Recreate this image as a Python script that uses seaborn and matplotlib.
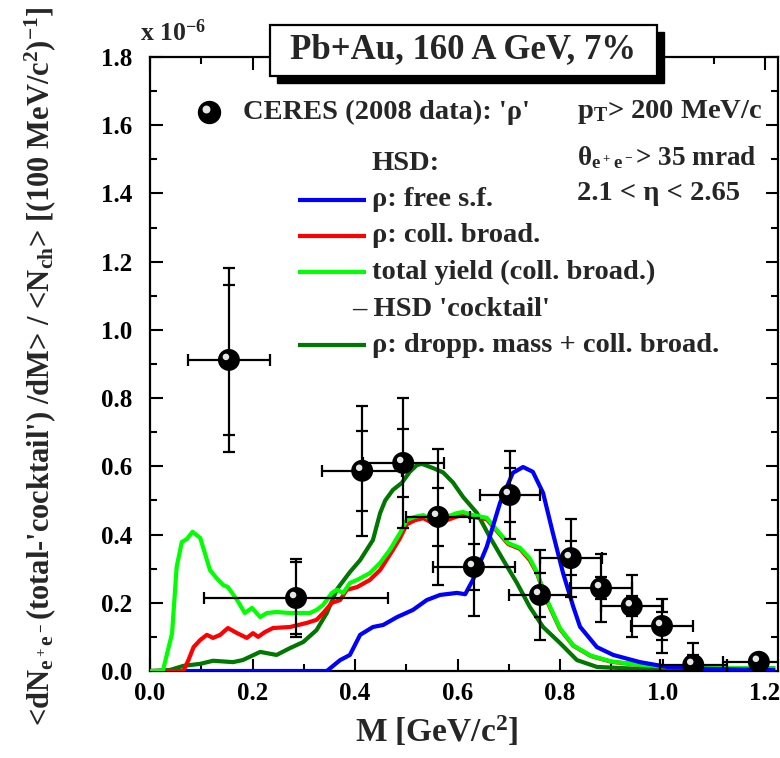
import matplotlib
matplotlib.use("Agg")
import matplotlib.pyplot as plt
import matplotlib.transforms as mtransforms
from matplotlib.patches import Rectangle
from matplotlib.lines import Line2D
import seaborn as sns
import numpy as np

# ---------------- data ----------------
# CERES 2008 data points
data_m = [0.154, 0.285, 0.414, 0.494, 0.562, 0.632, 0.702, 0.761, 0.821, 0.880, 0.940, 0.999, 1.060, 1.188]
data_y = [0.912, 0.214, 0.587, 0.610, 0.452, 0.305, 0.516, 0.223, 0.331, 0.243, 0.190, 0.132, 0.018, 0.027]
data_xerr = [0.080, 0.180, 0.078, 0.079, 0.062, 0.080, 0.058, 0.060, 0.060, 0.060, 0.060, 0.060, 0.065, 0.070]
data_yerr_tot = [0.270, 0.114, 0.190, 0.190, 0.200, 0.145, 0.130, 0.133, 0.115, 0.100, 0.090, 0.080, 0.064, 0.020]
data_yerr_mid = [0.220, 0.105, 0.117, 0.100, 0.085, 0.068, 0.080, 0.065, 0.050, 0.033, 0.030, 0.040, 0.030, 0.010]

# HSD: rho free spectral function (blue)
free_m = [0.07, 0.345, 0.371, 0.390, 0.410, 0.435, 0.455, 0.482, 0.513, 0.540, 0.566, 0.599, 0.615,
          0.630, 0.657, 0.683, 0.708, 0.728, 0.747, 0.767, 0.786, 0.806, 0.826, 0.839, 0.872, 0.904, 0.956,
          1.009, 1.087, 1.22]
free_y = [0.0, 0.0, 0.032, 0.047, 0.106, 0.129, 0.135, 0.158, 0.179, 0.208, 0.223, 0.229, 0.225,
          0.267, 0.364, 0.493, 0.581, 0.598, 0.584, 0.522, 0.405, 0.287, 0.188, 0.130, 0.070, 0.047, 0.026,
          0.012, 0.006, 0.003]

# HSD: rho collisional broadening (red)
coll_m = [0.0, 0.065, 0.075, 0.085, 0.098, 0.111, 0.123, 0.137, 0.152, 0.170, 0.189, 0.201, 0.211, 0.224,
          0.240, 0.273, 0.306, 0.325, 0.338, 0.355, 0.371, 0.384, 0.404, 0.429, 0.449, 0.474, 0.488, 0.501,
          0.517, 0.533, 0.550, 0.562, 0.579, 0.599, 0.611, 0.630, 0.657, 0.677, 0.699, 0.722, 0.741, 0.755,
          0.774, 0.800, 0.826, 0.860, 0.900, 0.956, 1.020, 1.100, 1.22]
coll_y = [0.0, 0.0, 0.032, 0.070, 0.091, 0.106, 0.097, 0.106, 0.126, 0.111, 0.097, 0.111, 0.100, 0.114,
          0.126, 0.129, 0.141, 0.150, 0.170, 0.200, 0.208, 0.238, 0.246, 0.267, 0.296, 0.355, 0.390, 0.430,
          0.442, 0.448, 0.435, 0.425, 0.442, 0.453, 0.457, 0.452, 0.445, 0.410, 0.372, 0.358, 0.325, 0.287,
          0.207, 0.123, 0.074, 0.044, 0.027, 0.018, 0.012, 0.009, 0.008]

# HSD: total yield (coll. broad.) - cocktail (lime)
tot_m = [0.0, 0.025, 0.043, 0.052, 0.062, 0.072, 0.083, 0.098, 0.107, 0.117, 0.130, 0.143, 0.152, 0.170,
         0.185, 0.199, 0.215, 0.228, 0.247, 0.273, 0.312, 0.325, 0.338, 0.355, 0.365, 0.377, 0.390, 0.404,
         0.429, 0.449, 0.468, 0.488, 0.501, 0.517, 0.533, 0.550, 0.562, 0.579, 0.599, 0.611, 0.630, 0.657,
         0.677, 0.699, 0.722, 0.741, 0.755, 0.774, 0.800, 0.826, 0.860, 0.900, 0.956, 1.020, 1.100, 1.22]
tot_y = [0.0, 0.0, 0.110, 0.305, 0.378, 0.387, 0.408, 0.390, 0.346, 0.296, 0.272, 0.252, 0.246, 0.208,
         0.170, 0.185, 0.158, 0.170, 0.173, 0.170, 0.170, 0.179, 0.194, 0.229, 0.238, 0.229, 0.258, 0.267,
         0.287, 0.317, 0.355, 0.405, 0.443, 0.452, 0.457, 0.443, 0.434, 0.452, 0.463, 0.466, 0.457, 0.449,
         0.413, 0.375, 0.361, 0.330, 0.290, 0.210, 0.125, 0.075, 0.045, 0.028, 0.018, 0.012, 0.009, 0.008]

# HSD: dropping mass + coll. broad. (dark green)
drop_m = [0.0, 0.039, 0.065, 0.098, 0.123, 0.162, 0.181, 0.215, 0.247, 0.273, 0.299, 0.325, 0.345, 0.365,
          0.390, 0.410, 0.435, 0.449, 0.459, 0.474, 0.491, 0.507, 0.521, 0.531, 0.552, 0.572, 0.591, 0.611,
          0.638, 0.663, 0.689, 0.716, 0.741, 0.767, 0.800, 0.833, 0.872, 0.956, 1.050, 1.19]
drop_y = [0.0, 0.003, 0.015, 0.021, 0.030, 0.026, 0.032, 0.056, 0.047, 0.067, 0.085, 0.120, 0.170, 0.240,
          0.290, 0.325, 0.384, 0.463, 0.500, 0.531, 0.551, 0.584, 0.604, 0.607, 0.595, 0.582, 0.553, 0.510,
          0.463, 0.393, 0.326, 0.258, 0.188, 0.129, 0.082, 0.032, 0.012, 0.006, 0.004, 0.003]

x_ticks = [0.0, 0.2, 0.4, 0.6, 0.8, 1.0, 1.2]
y_ticks = [0.0, 0.2, 0.4, 0.6, 0.8, 1.0, 1.2, 1.4, 1.6, 1.8]

# ---------------- style ----------------
sns.set_theme(style="ticks")
plt.rcParams["font.family"] = ["Liberation Serif", "DejaVu Serif"]
plt.rcParams["font.weight"] = "bold"
plt.rcParams["mathtext.fontset"] = "custom"
plt.rcParams["mathtext.rm"] = "Liberation Serif:bold"
plt.rcParams["mathtext.it"] = "Liberation Serif:bold"
plt.rcParams["mathtext.bf"] = "Liberation Serif:bold"
plt.rcParams["axes.linewidth"] = 1.6
plt.rcParams["lines.solid_joinstyle"] = "round"
plt.rcParams["lines.solid_capstyle"] = "butt"

W, H = 780, 758
fig = plt.figure(figsize=(W / 100, H / 100), dpi=100)
fig.patch.set_facecolor("white")
ax = fig.add_axes([150 / W, (H - 671) / H, 628 / W, 614 / H])
ax.set_facecolor("white")

col_free = "#0000ff"
col_coll = "#ff0000"
col_tot = "#00ff00"
col_drop = "#007700"
lw = 3.0

sns.lineplot(x=drop_m, y=drop_y, ax=ax, color=col_drop, lw=lw, sort=False, estimator=None, zorder=2)
sns.lineplot(x=coll_m, y=coll_y, ax=ax, color=col_coll, lw=lw, sort=False, estimator=None, zorder=3)
sns.lineplot(x=tot_m, y=tot_y, ax=ax, color=col_tot, lw=lw, sort=False, estimator=None, zorder=4)
sns.lineplot(x=free_m, y=free_y, ax=ax, color=col_free, lw=lw, sort=False, estimator=None, zorder=5)

# data with error bars
ax.errorbar(data_m, data_y, xerr=data_xerr, yerr=data_yerr_tot, fmt="none", ecolor="black",
            elinewidth=1.6, capsize=4, capthick=1.6, zorder=6)
ax.errorbar(data_m, data_y, yerr=data_yerr_mid, fmt="none", ecolor="black",
            elinewidth=0, capsize=4, capthick=1.6, zorder=6)
sns.scatterplot(x=data_m, y=data_y, ax=ax, color="black", s=250, edgecolor="none", zorder=7)
hl = mtransforms.offset_copy(ax.transData, fig=fig, x=-3, y=3, units="dots")
ax.scatter(data_m, data_y, s=22, color="#e6e6e6", edgecolor="none", transform=hl, zorder=8)

ax.set_xlim(0, 628 / 512.5)
ax.set_ylim(0, 1.8)
ax.set_xticks(x_ticks)
ax.set_xticklabels([f"{v:.1f}" for v in x_ticks])
ax.set_yticks(y_ticks)
ax.set_yticklabels([f"{v:.1f}" for v in y_ticks])
ax.set_xticks(np.arange(0.1, 1.22, 0.2), minor=True)
ax.set_yticks(np.arange(0.1, 1.8, 0.2), minor=True)
ax.tick_params(which="both", direction="in", top=True, right=True, width=1.5, colors="black")
ax.tick_params(which="major", length=9, labelsize=18)
ax.tick_params(axis="x", which="major", pad=8)
ax.tick_params(axis="y", which="major", pad=13)
ax.tick_params(which="minor", length=5)
for lab in ax.get_xticklabels() + ax.get_yticklabels():
    lab.set_fontweight("bold")
for s in ax.spines.values():
    s.set_color("black")
    s.set_linewidth(1.6)

ax.set_xlabel("M [GeV/c$^2$]", fontsize=24, fontweight="bold")
ax.xaxis.set_label_coords((437 - 150) / 628, -0.070)
ax.set_ylabel("")
fig.text(40 / W, 1 - 366 / H,
         r"<dN$_{e^+e^-}$(total-'cocktail') /dM> / <N$_{ch}$> [(100 MeV/c$^2$)$^{-1}$]",
         rotation=90, ha="center", va="center", fontsize=22, fontweight="bold")

fig.text(140 / W, 1 - 33 / H, r"x 10$^{-6}$", ha="left", va="center", fontsize=18.5, fontweight="bold")

# title box with shadow
bx0, bx1, by0, by1 = 270, 657, 25, 76
fig.add_artist(Rectangle(((bx0 + 7) / W, 1 - (by1 + 7) / H), (bx1 - bx0) / W, (by1 - by0) / H,
                         transform=fig.transFigure, facecolor="black", edgecolor="black", zorder=10))
fig.add_artist(Rectangle((bx0 / W, 1 - by1 / H), (bx1 - bx0) / W, (by1 - by0) / H,
                         transform=fig.transFigure, facecolor="white", edgecolor="black", lw=1.6, zorder=11))
fig.text((bx0 + bx1) / 2 / W, 1 - 50 / H, "Pb+Au, 160 A GeV, 7%", ha="center", va="center",
         fontsize=25, fontweight="bold", zorder=12)

# legend (manual)
def fx(px):
    return (px - 150) / 628

def fy(py):
    return (671 - py) / 614

tfs = 20.5
ax.scatter([fx(209)], [fy(112)], s=250, color="black", transform=ax.transAxes, zorder=7, clip_on=False)
ax.scatter([fx(209)], [fy(112)], s=22, color="#e6e6e6", transform=mtransforms.offset_copy(
    ax.transAxes, fig=fig, x=-3, y=3, units="dots"), zorder=8)
ax.text(fx(243), fy(112), "CERES (2008 data): 'ρ'", transform=ax.transAxes, ha="left", va="center",
        fontsize=tfs, fontweight="bold")
ax.text(fx(372), fy(164), "HSD:", transform=ax.transAxes, ha="left", va="center", fontsize=tfs,
        fontweight="bold")
leg = [(col_free, 200, "ρ: free s.f."), (col_coll, 236, "ρ: coll. broad."),
       (col_tot, 272, "total yield (coll. broad.)"), (None, 309, "– HSD 'cocktail'"),
       (col_drop, 345, "ρ: dropp. mass + coll. broad.")]
for c, py, lab in leg:
    if c is not None:
        ax.add_line(Line2D([fx(298), fx(366)], [fy(py), fy(py)], color=c, lw=lw, transform=ax.transAxes))
        ax.text(fx(372), fy(py), lab, transform=ax.transAxes, ha="left", va="center", fontsize=tfs,
                fontweight="bold")
    else:
        ax.text(fx(352), fy(py), lab, transform=ax.transAxes, ha="left", va="center", fontsize=tfs,
                fontweight="bold")

ax.text(fx(577), fy(112), r"p$_T$> 200 MeV/c", transform=ax.transAxes, ha="left", va="center",
        fontsize=tfs, fontweight="bold")
ax.text(fx(577), fy(158), r"θ$_{e^+e^-}$> 35 mrad", transform=ax.transAxes, ha="left", va="center",
        fontsize=19.5, fontweight="bold")
ax.text(fx(577), fy(194), "2.1 < η < 2.65", transform=ax.transAxes, ha="left", va="center",
        fontsize=tfs, fontweight="bold")

fig.savefig("out.png", dpi=100, facecolor="white")
